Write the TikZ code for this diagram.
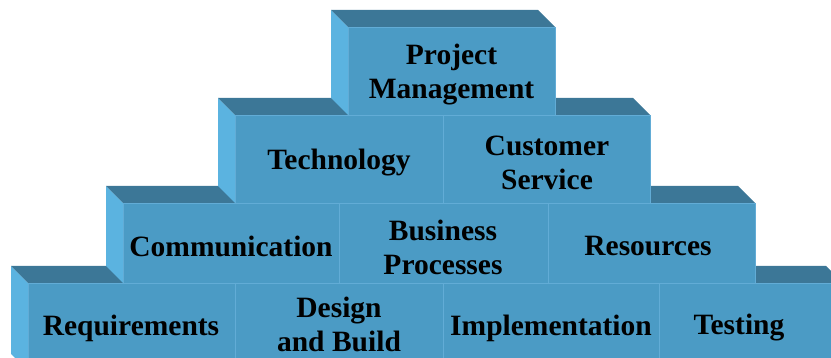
\documentclass[tikz,border=0pt]{standalone}
\usepackage{fontspec}
\setmainfont{Liberation Serif}
\usepackage{tikz}

\definecolor{brickfront}{HTML}{4B9BC5}
\definecolor{bricktop}{HTML}{3C7797}
\definecolor{brickside}{HTML}{5BB3E0}
\definecolor{brickline}{HTML}{62ACD6}

\tikzset{
    frontface/.style={fill=brickfront, draw=brickline, line width=0.8pt},
    topface/.style={fill=bricktop},
    sideface/.style={fill=brickside},
    divider/.style={draw=brickline, line width=0.8pt},
    bricklabel/.style={align=center, font=\bfseries\fontsize{29.5}{34}\selectfont}
}

\begin{document}
\begin{tikzpicture}[x=1pt, y=-1pt]
            \useasboundingbox (0,0) rectangle (831,358);
            \clip (0,0) rectangle (831,358);
            % rows, bottom one first
            \foreach \xa/\xb/\ya/\yb in {28/843/283/371, 123/755/203/283, 235/650/115/203, 348/555/27/115}{
                \fill[sideface] (\xa-17,\ya-17) -- (\xa,\ya) -- (\xa,\yb) -- (\xa-17,\yb-17) -- cycle;
                \fill[topface]  (\xa-17,\ya-17) -- (\xb-17,\ya-17) -- (\xb,\ya) -- (\xa,\ya) -- cycle;
                \filldraw[frontface] (\xa,\ya) rectangle (\xb,\yb);
            }
            % dividers
            \draw[divider] (443,115) -- (443,203);
            \draw[divider] (339,203) -- (339,283);
            \draw[divider] (548,203) -- (548,283);
            \draw[divider] (235,283) -- (235,371);
            \draw[divider] (443,283) -- (443,371);
            \draw[divider] (659,283) -- (659,371);

            \node[bricklabel] (pm) at (451.5,75) {Project\\Management};
            \node[bricklabel] (tech) at (339,163) {Technology};
            \node[bricklabel] (cust) at (547,163) {Customer\\Service};
            \node[bricklabel] (comm) at (231,246) {Communication};
            \node[bricklabel] (bus) at (443,247) {Business\\Processes};
            \node[bricklabel] (res) at (648,246) {Resources};
            \node[bricklabel] (req) at (131,328) {Requirements};
            \node[bricklabel] (des) at (339,324.5) {Design\\and Build};
            \node[bricklabel] (impl) at (551,328) {Implementation};
            \node[bricklabel] (test) at (739,328) {Testing};
\end{tikzpicture}
\end{document}
